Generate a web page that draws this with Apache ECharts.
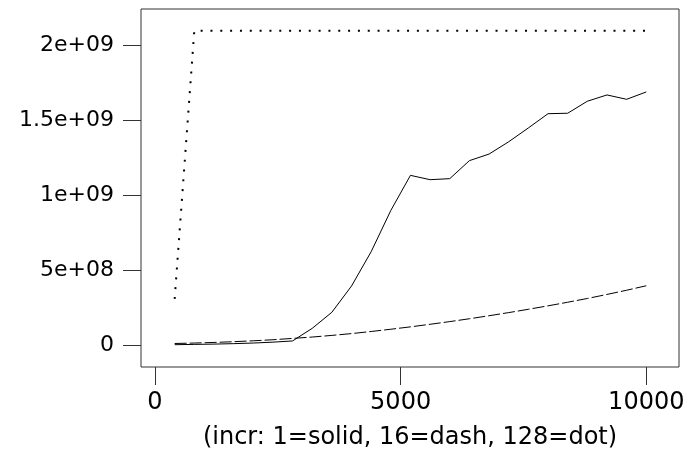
<!DOCTYPE html>
<html>
<head>
<meta charset="utf-8">
<script src="https://cdn.jsdelivr.net/npm/echarts@6/dist/echarts.min.js"></script>
<style>
html,body{margin:0;padding:0;background:#fff;}
#chart{width:689px;height:458px;}
</style>
</head>
<body>
<div id="chart"></div>
<script>
// Data
const nValues = [400,800,1200,1600,2000,2400,2800,3200,3600,4000,4400,4800,5200,5600,6000,6400,6800,7200,7600,8000,8400,8800,9200,9600,10000];
const solidValues = [2e6,4e6,6e6,9e6,1.3e7,1.9e7,2.7e7,1.11e8,2.18e8,3.93e8,6.22e8,8.97e8,1.131e9,1.102e9,1.109e9,1.229e9,1.273e9,1.355e9,1.447e9,1.542e9,1.545e9,1.625e9,1.667e9,1.638e9,1.687e9];
const dashValues = [1.0e7,1.3e7,1.7e7,2.2e7,2.8e7,3.5e7,4.4e7,5.3e7,6.4e7,7.6e7,9.0e7,1.05e8,1.21e8,1.38e8,1.56e8,1.75e8,1.95e8,2.16e8,2.38e8,2.61e8,2.85e8,3.1e8,3.37e8,3.65e8,3.95e8];
const dotValues = [3.07e8,2.095e9,2.095e9,2.095e9,2.095e9,2.095e9,2.095e9,2.095e9,2.095e9,2.095e9,2.095e9,2.095e9,2.095e9,2.095e9,2.095e9,2.095e9,2.095e9,2.095e9,2.095e9,2.095e9,2.095e9,2.095e9,2.095e9,2.095e9,2.095e9];
const xTicks = [0,5000,10000];
const xTickLabels = ["0","5000","10000"];
const yTicks = [0,5e8,1e9,1.5e9,2e9];
const yTickLabels = ["0","5e+08","1e+09","1.5e+09","2e+09"];
const xTitle = "(incr: 1=solid, 16=dash, 128=dot)";

const pairs = vals => nValues.map((n,i)=>[n, vals[i]]);
const font = "DejaVu Sans";
const chart = echarts.init(document.getElementById('chart'), null, {renderer:'canvas'});
chart.setOption({
  animation:false,
  backgroundColor:'#fff',
  grid:{left:141, right:10, top:9, bottom:91, show:true, borderColor:'#333', borderWidth:1, backgroundColor:'transparent'},
  xAxis:{
    type:'value', min:-285, max:10666,
    name:xTitle, nameLocation:'middle', nameGap:59,
    nameTextStyle:{fontFamily:font, fontSize:24, color:'#000'},
    axisLine:{show:false, onZero:false},
    splitLine:{show:false},
    axisTick:{show:true, inside:false, length:18, customValues:xTicks, lineStyle:{color:'#333', width:1}},
    axisLabel:{fontFamily:font, fontSize:24, color:'#000', margin:24, customValues:xTicks,
      formatter:v=>{const i=xTicks.indexOf(v); return i>=0?xTickLabels[i]:'';}}
  },
  yAxis:{
    type:'value', min:-1.467e8, max:2.24e9,
    axisLine:{show:false, onZero:false},
    splitLine:{show:false},
    axisTick:{show:true, inside:false, length:18, customValues:yTicks, lineStyle:{color:'#333', width:1}},
    axisLabel:{fontFamily:font, fontSize:22, color:'#000', margin:27, customValues:yTicks,
      formatter:v=>{const i=yTicks.indexOf(v); return i>=0?yTickLabels[i]:'';}}
  },
  series:[
    {type:'line', data:pairs(solidValues), symbol:'none', lineStyle:{color:'#000', width:1, type:'solid'}},
    {type:'line', data:pairs(dashValues), symbol:'none', lineStyle:{color:'#000', width:1, type:[12,3]}},
    {type:'line', data:pairs(dotValues), symbol:'none', lineStyle:{color:'#000', width:2, type:[2,7.83], cap:'butt'}}
  ]
});
</script>
</body>
</html>
